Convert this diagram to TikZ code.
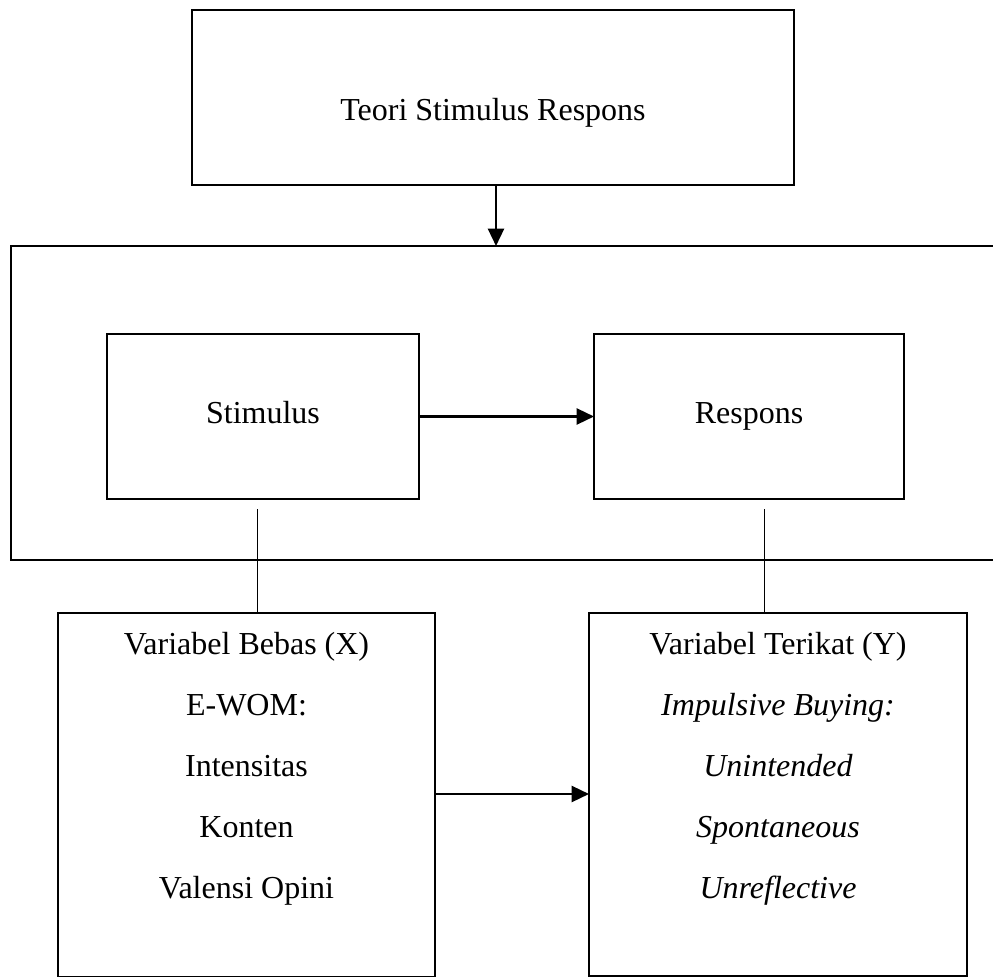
\documentclass[tikz,border=0pt]{standalone}
\usepackage{fontspec}
\setmainfont{Liberation Serif}
\usetikzlibrary{arrows.meta}
\tikzset{
  kasten/.style={draw, line width=1.8pt, inner sep=0pt, outer sep=0pt},
  schrift/.style={font=\fontsize{24}{45.75}\selectfont},
  pfeil/.style={line width=1.8pt, -{Triangle[length=13pt,width=12pt]}},
  linie/.style={line width=0.7pt}
}
\begin{document}
\begin{tikzpicture}[x=0.75pt,y=-0.75pt]
  \useasboundingbox (0,0) rectangle (993,977);
  % die Theorie oben
  \node[kasten, schrift, anchor=north west, minimum width=451.5pt, minimum height=131.25pt, text height=40pt, text depth=5.2pt] (teori) at (192,10) {Teori Stimulus Respons};
  % der Rahmen (rechts offen)
  \coordinate (rahmenA) at (993,246);
  \coordinate (rahmenB) at (993,560);
  \coordinate (rahmenOben) at (496,246);
  \draw[line width=1.8pt] (rahmenA) -- (11,246) -- (11,560) -- (rahmenB);
  \draw[pfeil] (teori.south -| rahmenOben) -- (rahmenOben);
  % Stimulus und Respons
  \node[kasten, schrift, anchor=north west, minimum width=234pt, minimum height=123.75pt, text height=16.4pt, text depth=5.2pt] (stimulus) at (107,334) {Stimulus};
  \node[kasten, schrift, anchor=north west, minimum width=232.5pt, minimum height=123.75pt, text height=16.4pt, text depth=5.2pt] (respons) at (594,334) {Respons};
  \draw[pfeil] (stimulus) -- (respons);
  % die Variablen
  \node[kasten, anchor=north west, minimum width=282.75pt, minimum height=273pt] (bebas) at (58,613) {};
  \node[kasten, anchor=north west, minimum width=283.5pt, minimum height=272.25pt] (terikat) at (589,613) {};
  \node[schrift, align=center, anchor=north, inner sep=0pt] (bebasText) at ([yshift=-14.25pt]bebas.north)
    {Variabel Bebas (X)\\E-WOM:\\Intensitas\\Konten\\Valensi Opini};
  \node[schrift, align=center, anchor=north, inner sep=0pt] (terikatText) at ([yshift=-14.25pt]terikat.north)
    {Variabel Terikat (Y)\\\textit{Impulsive Buying:}\\\textit{Unintended}\\\textit{Spontaneous}\\\textit{Unreflective}};
  % Verbindungen
  \coordinate (s1) at (257,509); % unter Stimulus
  \coordinate (r1) at (764,509); % unter Respons
  \draw[linie] (s1) -- (s1 |- bebas.north);
  \draw[linie] (r1) -- (r1 |- terikat.north);
  \coordinate (pfeilY) at (500,794);
  \draw[pfeil] (bebas.east |- pfeilY) -- (terikat.west |- pfeilY);
\end{tikzpicture}
\end{document}
